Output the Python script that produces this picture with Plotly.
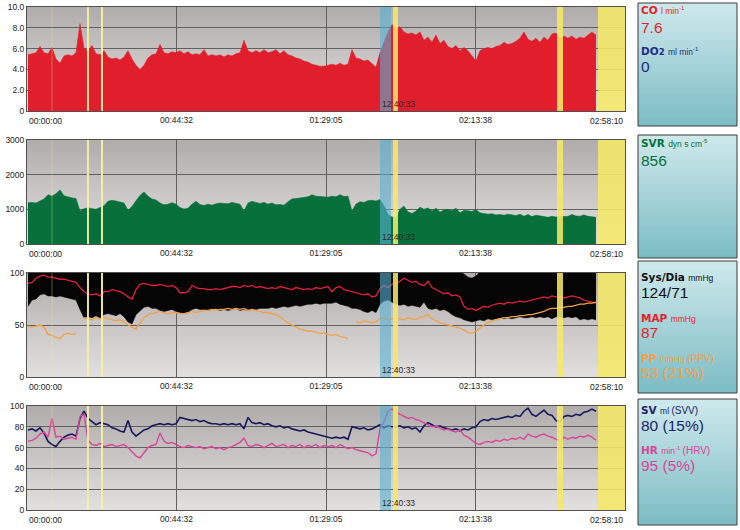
import plotly.graph_objects as go

# ---------------- time base (seconds from 00:00:00) ----------------
T0 = 18.0          # first sample
DT = 71.5          # sample interval (s)
T_END = 10690      # 02:58:10
tick_vals = [0, 2672.5, 5345, 8017.5, 10690]
tick_text = ["00:00:00", "00:44:32", "01:29:05", "02:13:38", "02:58:10"]

# ---------------- series ----------------
co = [5.4,5.5,5.6,6.2,5.6,5.5,6.1,5.0,4.6,5.3,
      5.4,5.3,5.6,8.4,6.0,5.8,6.3,5.5,5.4,5.8,
      5.2,5.0,5.1,4.9,5.2,5.8,5.0,4.4,4.0,4.4,
      5.1,5.4,5.5,6.4,5.6,5.5,5.7,5.6,5.8,5.5,
      5.7,5.4,5.5,5.4,5.9,5.3,5.4,5.3,5.4,5.2,
      5.4,5.3,5.5,5.6,6.8,5.8,5.6,5.8,5.6,5.9,
      5.6,5.7,5.9,5.5,5.8,5.4,5.3,5.1,5.0,4.8,
      4.7,4.5,4.4,4.3,4.3,4.4,4.5,4.4,4.6,4.4,
      4.5,5.9,5.1,5.0,4.8,4.9,4.5,4.2,5.6,6.6,
      7.6,8.3,8.0,8.1,7.6,7.4,7.5,7.3,7.6,6.8,
      7.1,6.6,7.3,6.5,6.8,6.2,6.0,6.3,5.8,6.1,
      5.8,5.3,4.8,5.8,6.0,6.1,6.0,6.2,6.3,6.6,
      6.4,6.5,6.7,7.0,7.6,6.9,6.7,7.0,6.6,7.1,
      6.8,7.4,7.5,7.0,7.2,7.0,7.2,6.9,7.1,7.0,
      7.3,7.6,7.3]

svr = [1190,1200,1180,1230,1300,1420,1380,1450,1560,1390,
       1350,1330,1310,950,1020,1040,1020,1000,1050,1100,
       1230,1260,1240,1210,1180,970,1080,1250,1400,1500,
       1380,1300,1270,1180,1130,1150,1190,1150,1050,1010,
       1030,1150,1230,1140,1110,1150,1120,1160,1180,1170,
       1160,1200,1180,1150,950,1180,1230,1200,1170,1200,
       1150,1180,1130,1140,1120,1220,1300,1310,1330,1350,
       1360,1420,1380,1370,1360,1350,1380,1360,1420,1370,
       1380,950,1150,1220,1200,1250,1260,1240,1280,1100,
       850,780,770,1000,1090,930,880,950,1060,1000,
       1040,950,1030,920,980,1000,960,1030,900,970,
       960,940,990,900,880,860,870,840,850,830,
       860,840,820,860,800,850,790,830,800,790,
       770,800,780,790,810,800,850,810,800,840,
       800,780,770]

bp_upper = [126,127,128,130,129,128,127,126,125,124,
            124,123,122,120,118,117,118,119,120,121,
            122,121,120,119,118,116,114,120,124,126,
            127,127,126,125,125,124,124,123,122,122,
            123,124,125,125,126,126,125,125,126,126,
            127,127,126,126,127,128,128,127,127,128,
            128,128,129,129,128,128,127,127,128,128,
            128,127,127,128,128,127,126,126,125,124,
            124,123,122,121,120,120,119,119,126,128,
            130,132,131,130,129,128,127,126,125,124,
            122,120,118,116,114,112,108,104,101,99,
            96,95,97,101,104,106,108,110,112,114,
            116,117,118,119,120,120,121,121,122,122,
            123,123,123,124,124,124,124,125,125,125,
            125,124,124]

bp_lower = [68,74,75,79,80,78,78,77,78,77,
            76,75,74,65,57,58,57,59,57,60,
            61,60,59,61,58,53,51,60,64,67,
            68,66,66,64,63,64,65,63,62,61,
            62,65,66,65,65,64,65,66,64,65,
            64,65,66,64,65,64,65,65,66,66,
            66,67,66,67,68,67,68,69,68,69,
            70,70,71,70,71,71,71,72,70,69,
            68,66,66,65,63,62,64,62,70,73,
            74,72,70,69,70,68,69,68,67,72,
            66,65,66,64,65,63,60,58,57,55,
            54,53,54,55,54,56,55,56,57,56,
            57,56,57,58,57,57,58,57,58,57,
            58,56,58,58,57,58,57,58,55,56,
            55,56,55]

map_bp = [90,91,95,97,98,96,96,95,94,94,
          93,92,91,86,82,80,79,80,78,82,
          82,84,83,82,80,77,75,84,89,90,
          89,88,88,89,88,87,88,86,81,81,
          82,88,86,85,85,84,84,85,84,85,
          86,87,87,86,88,87,88,86,87,86,
          85,86,85,87,86,85,84,86,85,84,
          85,84,86,85,86,87,82,86,87,84,
          83,82,81,80,79,80,77,78,85,88,
          86,89,90,92,95,93,91,92,89,88,
          92,86,84,82,80,81,78,79,77,68,
          65,66,64,66,68,67,69,70,71,70,
          72,71,72,73,72,73,74,75,76,77,
          76,78,77,77,76,77,78,77,76,74,
          73,72,71]

pp = [49,48,49,50,48,41,40,38,37,41,
      42,41,42,None,57,56,55,57,56,57,
      56,55,54,55,53,50,48,46,52,57,
      60,61,62,63,62,61,62,62,61,61,
      62,63,62,63,64,64,65,64,65,65,
      66,65,66,65,66,64,65,64,63,62,
      62,61,60,58,55,52,50,48,46,45,
      44,44,43,42,42,41,40,41,39,38,
      37,None,53,52,54,53,52,53,56,57,
      55,56,57,56,55,57,56,55,57,58,
      60,56,54,52,51,50,49,48,47,45,
      43,42,44,47,50,52,54,55,56,57,
      57,58,58,59,59,60,60,61,62,63,
      65,66,66,67,67,68,68,69,70,70,
      71,71,72]

sv = [77,78,76,79,74,66,63,61,66,70,
      72,73,71,88,95,88,85,82,84,83,
      82,79,78,76,75,86,75,71,74,77,
      78,81,82,83,82,83,82,83,89,88,
      87,86,87,85,86,84,83,83,82,83,
      82,83,82,83,78,89,84,83,84,82,
      83,81,80,81,79,80,78,77,76,77,
      75,74,73,72,71,70,69,70,69,70,
      68,80,79,78,79,77,78,80,82,79,
      81,80,80,81,79,80,78,79,75,81,
      84,82,80,81,79,78,77,78,76,78,
      77,79,80,85,87,86,88,87,88,89,
      90,89,91,90,95,98,92,90,93,96,
      92,91,86,85,90,91,90,92,91,94,
      95,97,95]

hr = [66,67,69,73,75,70,88,70,71,68,
      69,70,68,90,92,67,63,62,64,61,
      62,63,61,62,63,60,56,52,50,55,
      60,62,63,74,66,64,65,63,61,60,
      62,61,60,61,59,60,61,59,60,58,
      60,61,63,65,69,62,61,63,62,60,
      62,64,61,62,63,60,62,61,63,60,
      62,61,63,60,62,61,62,60,63,61,
      59,60,58,57,56,55,52,54,78,85,
      95,97,94,92,90,88,89,87,86,84,
      82,80,81,79,77,78,76,75,77,72,
      70,67,64,63,65,66,65,67,66,68,
      67,69,68,70,68,73,71,70,72,73,
      71,70,68,66,70,68,70,69,71,70,
      72,70,67]

# ---------------- events ----------------
faint_markers = [447]
marker_lines = [1090, 1341]
blue_band = (6310, 6507)
yellow_bands = [(6543, 6632), (9474, 9582), (10207, 10690)]
event_label = "12:40:33"
event_label_t = 6310

# ---------------- read-out boxes ----------------
readout_labels = ["CO", "DO<span style='font-size:8.5px'>2</span>", "SVR", "Sys/Dia", "MAP", "PP", "SV", "HR"]
readout_units = ["l min<sup>-1</sup>", "ml min<sup>-1</sup>", "dyn s cm<sup>-5</sup>", "mmHg", "mmHg",
                 "mmHg <span style='font-size:10px'>(PPV)</span>",
                 "ml <span style='font-size:10px'>(SVV)</span>",
                 "min<sup>-1</sup> <span style='font-size:10px'>(HRV)</span>"]
readout_values = ["7.6", "0", "856", "124/71", "87", "53 (21%)", "80 (15%)", "95 (5%)"]

RED = "#e11f2c"
GREEN = "#08703a"
NAVY = "#17195c"
DO2_BLUE = "#1d2d86"
ORANGE = "#f4a047"
PINK = "#d8459a"
MAPRED = "#e0203a"
readout_colors = [RED, DO2_BLUE, GREEN, "#111111", RED, ORANGE, "#1d2266", PINK]
# pixel centres (layout) of header / value lines
readout_hdr_y = [10, 51, 143.5, 276.5, 317.5, 357.5, 409.5, 449.5]
readout_val_y = [27.5, 67, 160, 292.5, 332.5, 372, 425.5, 465.5]
boxes_px = [(3, 126), (135, 258), (261, 393), (399, 525)]

# ---------------- geometry ----------------
W, H = 740, 530
ML, MR, MT, MB = 27, 115, 7, 20
PW = W - ML - MR
PH = H - MT - MB


def py(ypix):
    return (H - MB - ypix) / PH


def px(xpix):
    return (xpix - ML) / PW


panels_px = [(7, 111), (140, 244), (273, 377), (406, 510)]
domains = [[py(b), py(t)] for (t, b) in panels_px]

n = len(co)
t = [T0 + DT * i for i in range(n)]

fig = go.Figure()

# panel 1 CO
fig.add_trace(go.Scatter(x=t, y=co, mode="lines", fill="tozeroy",
                         line=dict(color=RED, width=0.6), fillcolor=RED,
                         xaxis="x", yaxis="y", hoverinfo="skip"))
# panel 2 SVR
fig.add_trace(go.Scatter(x=t, y=svr, mode="lines", fill="tozeroy",
                         line=dict(color=GREEN, width=0.6), fillcolor=GREEN,
                         xaxis="x2", yaxis="y2", hoverinfo="skip"))
# panel 3 BP
fig.add_trace(go.Scatter(x=t, y=bp_lower, mode="lines", line=dict(color="#050505", width=0.6),
                         xaxis="x3", yaxis="y3", hoverinfo="skip"))
fig.add_trace(go.Scatter(x=t, y=bp_upper, mode="lines", fill="tonexty", fillcolor="#050505",
                         line=dict(color="#050505", width=0.6),
                         xaxis="x3", yaxis="y3", hoverinfo="skip"))
fig.add_trace(go.Scatter(x=t, y=map_bp, mode="lines", line=dict(color=MAPRED, width=1.3),
                         xaxis="x3", yaxis="y3", hoverinfo="skip"))
fig.add_trace(go.Scatter(x=t, y=pp, mode="lines", line=dict(color=ORANGE, width=1.3),
                         connectgaps=False, xaxis="x3", yaxis="y3", hoverinfo="skip"))
# panel 4 SV / HR
fig.add_trace(go.Scatter(x=t, y=sv, mode="lines", line=dict(color=NAVY, width=1.6),
                         xaxis="x4", yaxis="y4", hoverinfo="skip"))
fig.add_trace(go.Scatter(x=t, y=hr, mode="lines", line=dict(color=PINK, width=1.4),
                         xaxis="x4", yaxis="y4", hoverinfo="skip"))

shapes = []
annotations = []
tickfont = dict(family="Liberation Sans, Arial, sans-serif", size=8.5, color="#1a1a1a")

y_ticks = [
    ([0, 2, 4, 6, 8, 10], ["0", "2.0", "4.0", "6.0", "8.0", "10.0"], [0, 10]),
    ([0, 1000, 2000, 3000], ["0", "1000", "2000", "3000"], [0, 3000]),
    ([0, 50, 100], ["0", "50", "100"], [0, 100]),
    ([0, 20, 40, 60, 80, 100], ["0", "20", "40", "60", "80", "100"], [0, 100]),
]


def lerp(a, b, f):
    return int(round(a + (b - a) * f))


BG_TOP = (176, 172, 171)
BG_BOT = (226, 224, 223)
NSTRIPE = 30

for k in range(4):
    sfx = "" if k == 0 else str(k + 1)
    xa, ya = "x" + sfx, "y" + sfx
    tv, tt, rng = y_ticks[k]
    fig.update_layout(**{
        "xaxis" + sfx: dict(domain=[0, 1], range=[0, T_END], anchor=ya,
                            tickvals=tick_vals[1:4], ticktext=tick_text[1:4],
                            showgrid=True, gridcolor="#606060", gridwidth=1,
                            showline=True, mirror=True, linecolor="#505050", linewidth=1,
                            zeroline=False, ticks="", tickfont=tickfont, fixedrange=True,
                            automargin=False, ticklabelstandoff=1),
        "yaxis" + sfx: dict(domain=domains[k], range=rng, anchor=xa,
                            tickvals=tv, ticktext=tt,
                            showgrid=True, gridcolor="#606060", gridwidth=1,
                            showline=True, mirror=True, linecolor="#505050", linewidth=1,
                            zeroline=False, ticks="", tickfont=tickfont, fixedrange=True,
                            automargin=False),
    })
    # gradient background: overlapping rects (each from bottom up to its stripe top) -> no seams
    for s in range(NSTRIPE):
        f = (s + 0.5) / NSTRIPE
        c = tuple(lerp(BG_TOP[j], BG_BOT[j], f) for j in range(3))
        shapes.append(dict(type="rect", xref=xa + " domain", yref=ya + " domain",
                           x0=0, x1=1, y0=0, y1=1 - s / NSTRIPE,
                           fillcolor="rgb(%d,%d,%d)" % c, line=dict(width=0), layer="below"))
    # event markers
    for tm in faint_markers:
        shapes.append(dict(type="line", xref=xa, yref=ya + " domain", x0=tm, x1=tm, y0=0, y1=1,
                           line=dict(color="rgba(240,232,140,0.35)", width=1), layer="above"))
    for tm in marker_lines:
        shapes.append(dict(type="line", xref=xa, yref=ya + " domain", x0=tm, x1=tm, y0=0, y1=1,
                           line=dict(color="rgba(246,240,160,0.95)", width=2), layer="above"))
    shapes.append(dict(type="rect", xref=xa, yref=ya + " domain", x0=blue_band[0], x1=blue_band[1],
                       y0=0, y1=1, fillcolor="rgba(86,176,212,0.6)", line=dict(width=0), layer="above"))
    for (a, b) in yellow_bands:
        shapes.append(dict(type="rect", xref=xa, yref=ya + " domain", x0=a, x1=b, y0=0, y1=1,
                           fillcolor="rgba(245,232,104,0.88)", line=dict(width=0), layer="above"))
    # event label
    annotations.append(dict(x=event_label_t, xref=xa, y=0, yref=ya + " domain", text=event_label,
                            xanchor="left", yanchor="bottom", showarrow=False, yshift=0,
                            font=dict(family="Liberation Sans, Arial, sans-serif", size=8.5, color="#2a2a2a")))
    # end time labels
    bot_pix = panels_px[k][1]
    annotations.append(dict(x=0, xref="paper", y=py(bot_pix + 10), yref="paper", text=tick_text[0],
                            xanchor="left", yanchor="middle", showarrow=False, xshift=0,
                            font=tickfont))
    annotations.append(dict(x=1, xref="paper", y=py(bot_pix + 10), yref="paper", text=tick_text[4],
                            xanchor="right", yanchor="middle", showarrow=False, xshift=0,
                            font=tickfont))

# read-out boxes with gradient
BOX_TOP = (206, 233, 236)
BOX_BOT = (124, 188, 196)
NB = 30
for (top, bot) in boxes_px:
    for s in range(NB):
        f = (s + 0.5) / NB
        c = tuple(lerp(BOX_TOP[j], BOX_BOT[j], f) for j in range(3))
        y_hi = top + (bot - top) * s / NB
        shapes.append(dict(type="rect", xref="paper", yref="paper",
                           x0=px(638), x1=px(737), y0=py(bot), y1=py(y_hi),
                           fillcolor="rgb(%d,%d,%d)" % c, line=dict(width=0), layer="above"))
    shapes.append(dict(type="rect", xref="paper", yref="paper",
                       x0=px(638), x1=px(737), y0=py(bot), y1=py(top),
                       fillcolor="rgba(0,0,0,0)", line=dict(color="#3a3a3a", width=1), layer="above"))

for i in range(len(readout_labels)):
    col = readout_colors[i]
    hdr = ("<b>%s</b> <span style='font-family:Liberation Sans, Arial; font-size:8.5px'>%s</span>"
           % (readout_labels[i], readout_units[i]))
    annotations.append(dict(x=px(639), xref="paper", y=py(readout_hdr_y[i]), yref="paper",
                            text=hdr, xanchor="left", yanchor="middle", showarrow=False,
                            font=dict(family="DejaVu Sans, Verdana, sans-serif", size=10.5, color=col)))
    annotations.append(dict(x=px(639), xref="paper", y=py(readout_val_y[i]), yref="paper",
                            text=readout_values[i], xanchor="left", yanchor="middle", showarrow=False,
                            font=dict(family="Liberation Sans, Arial, sans-serif", size=15.5, color=col)))

fig.update_layout(
    width=W, height=H,
    margin=dict(l=ML, r=MR, t=MT, b=MB, pad=0, autoexpand=False),
    paper_bgcolor="white", plot_bgcolor="rgba(0,0,0,0)",
    showlegend=False,
    shapes=shapes, annotations=annotations,
)

fig.write_html("out.html", config={"displayModeBar": False},
               post_script="document.body.style.margin='0px';document.body.style.overflow='hidden';")
